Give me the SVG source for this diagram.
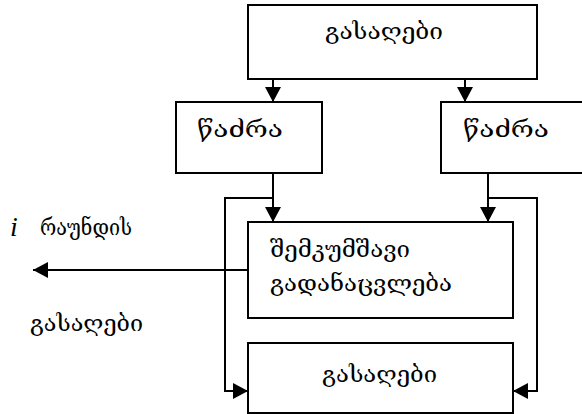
<svg xmlns="http://www.w3.org/2000/svg" width="582" height="414" viewBox="0 0 582 414">
<style>
.box{fill:#fff;stroke:#000;stroke-width:2}
.ln{fill:none;stroke:#000;stroke-width:2}
.t{font-family:"DejaVu Serif","DejaVu Sans",serif;font-size:23px;fill:#000}
.it{font-family:"Liberation Serif",serif;font-style:italic;font-size:28px;fill:#000}
</style>
<defs>
<marker id="ah" markerUnits="userSpaceOnUse" markerWidth="16" markerHeight="16" refX="15" refY="8" orient="auto">
<path d="M0,0 L15,8 L0,16 z" fill="#000"/>
</marker>
</defs>
<g id="connectors">
<line class="ln" x1="273" y1="79" x2="273" y2="102" marker-end="url(#ah)"/>
<line class="ln" x1="465" y1="79" x2="465" y2="102" marker-end="url(#ah)"/>
<line class="ln" x1="273" y1="173" x2="273" y2="222" marker-end="url(#ah)"/>
<line class="ln" x1="488" y1="173" x2="488" y2="222" marker-end="url(#ah)"/>
<polyline class="ln" points="273,198 225,198 225,391 248,391" marker-end="url(#ah)"/>
<polyline class="ln" points="488,198 537,198 537,391 513,391" marker-end="url(#ah)"/>
<line class="ln" x1="248" y1="270" x2="33" y2="270" marker-end="url(#ah)"/>
</g>
<g id="n-top">
<rect class="box" x="248" y="5" width="289" height="74"/>
<text class="t" x="325" y="39" textLength="118" lengthAdjust="spacingAndGlyphs">გასაღები</text>
</g>
<g id="n-left">
<rect class="box" x="176" y="102" width="146" height="71"/>
<text class="t" x="197" y="137" textLength="86" lengthAdjust="spacingAndGlyphs">წაძრა</text>
</g>
<g id="n-right">
<rect class="box" x="441" y="102" width="160" height="71"/>
<text class="t" x="463" y="137" textLength="86" lengthAdjust="spacingAndGlyphs">წაძრა</text>
</g>
<g id="n-mix">
<rect class="box" x="248" y="222" width="265" height="96"/>
<text class="t" x="270" y="257" textLength="140" lengthAdjust="spacingAndGlyphs">შემკუმშავი</text>
<text class="t" x="270" y="291" textLength="182" lengthAdjust="spacingAndGlyphs">გადანაცვლება</text>
</g>
<g id="n-bottom">
<rect class="box" x="248" y="343" width="265" height="70"/>
<text class="t" x="322" y="382" textLength="115" lengthAdjust="spacingAndGlyphs">გასაღები</text>
</g>
<g id="n-label">
<text class="it" x="10" y="236">i</text>
<text class="t" x="40" y="235" textLength="92" lengthAdjust="spacingAndGlyphs">რაუნდის</text>
<text class="t" x="30" y="331" textLength="113" lengthAdjust="spacingAndGlyphs">გასაღები</text>
</g>
</svg>
